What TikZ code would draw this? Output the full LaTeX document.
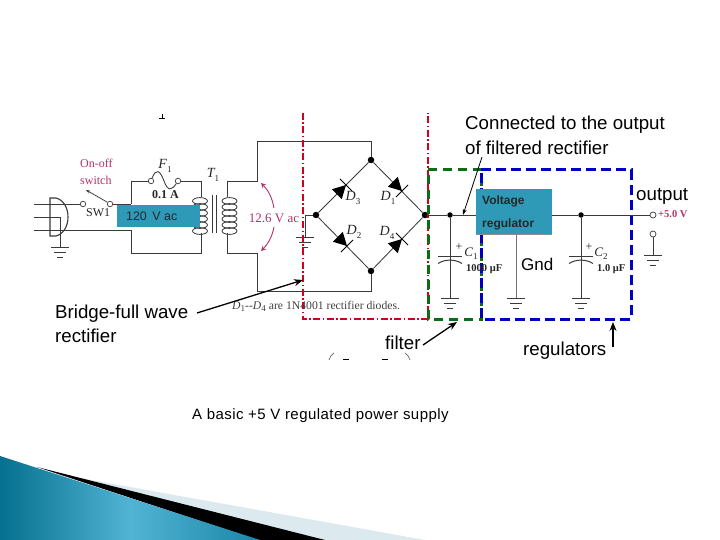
\documentclass[tikz,border=0pt]{standalone}
\usepackage{fontspec}
\setmainfont{Liberation Sans}
\newfontfamily\serifface{Liberation Serif}
\newfontfamily\capface[LetterSpace=3]{Liberation Sans}
\usetikzlibrary{arrows.meta,shadings}
\definecolor{tealbox}{HTML}{2E9AB8}
\definecolor{pinklabel}{HTML}{B5306E}
\definecolor{redbox}{HTML}{D00020}
\definecolor{greenbox}{HTML}{0A6E14}
\definecolor{bluebox}{HTML}{0000C0}
\definecolor{wire}{HTML}{3A3A3A}
\definecolor{bandlight}{HTML}{DCEAF0}
\definecolor{banddark}{HTML}{05708F}
\definecolor{bandmid}{HTML}{52B4D4}
\definecolor{bandright}{HTML}{1A86A8}
\newcommand{\subdigit}[1]{\raisebox{-0.25em}{\fontsize{9}{10}\selectfont\upshape #1}}
\tikzset{
  wireline/.style={draw=wire,line width=0.85pt},
  junction/.style={circle,fill=black,inner sep=0pt,minimum size=6.5pt},
  outlet/.style={circle,draw=wire,fill=white,line width=0.7pt,inner sep=0pt,minimum size=6pt},
  calllabel/.style={font=\fontsize{18.7}{20}\selectfont,text=black,inner sep=0pt,anchor=base west},
  partlabel/.style={font=\serifface\fontsize{12}{13}\selectfont,text=black!85,inner sep=0pt},
  italiclabel/.style={font=\serifface\itshape\fontsize{14}{15}\selectfont,text=black!85,inner sep=0pt},
  pinktext/.style={font=\serifface\fontsize{12}{13}\selectfont,text=pinklabel,inner sep=0pt},
  callarrow/.style={draw=black,line width=1.3pt,-{Stealth[length=9pt,width=7pt]}},
  tealblock/.style={fill=tealbox,inner sep=0pt,anchor=north west},
}
\newcommand{\groundmark}[2]{%
  \draw[wireline,line width=1pt] (#1-9,#2) -- (#1+9,#2) (#1-6,#2+5) -- (#1+6,#2+5) (#1-3,#2+10) -- (#1+3,#2+10);}
\newcommand{\diodemark}[3]{%
  \begin{scope}[shift={(#1,#2)},rotate=#3]
    \fill[black] (0,0) -- (-13,-7) -- (-13,7) -- cycle;
    \draw[black,line width=1pt] (0,-8.5) -- (0,8.5);
  \end{scope}}
\newcommand{\capmark}[1]{%
  \draw[wireline,line width=1pt] (#1-12,256) -- (#1+12,256);
  \draw[wireline,line width=1pt] (#1-12,263.5) .. controls (#1-5,259) and (#1+5,259) .. (#1+12,263.5);}
\begin{document}
\begin{tikzpicture}[x=1pt,y=-1pt]
\useasboundingbox (0,0) rectangle (720,540);
\fill[white] (0,0) rectangle (720,540);
% bottom decoration
\fill[bandlight] (80,478) -- (425,540) -- (320,540) -- cycle;
\fill[black] (37,467) -- (325,540) -- (258,540) -- cycle;
\shade[left color=banddark,right color=bandright,middle color=bandmid,shading angle=90] (0,456) -- (260,540) -- (0,540) -- cycle;
% fragments
\draw[black,line width=0.9pt] (162,114) -- (162,118) (159,118) -- (165,118);
\draw[black!60,line width=0.7pt] (329,360) .. controls (330,357) and (331,355) .. (334,353);
\draw[black!60,line width=0.7pt] (410,360) .. controls (409,357) and (408,355) .. (405,353);
\draw[black,line width=1pt] (343,359) -- (349,359) (382,359) -- (388,359);
% plug
\coordinate (pa) at (34,204); \coordinate (pb) at (34,217); \coordinate (pc) at (34,230);
\draw[wireline] (pa) -- (50,204) (pb) -- (60,217) (pc) -- (50,230);
\draw[wireline,line width=1.1pt] (50,198) -- (50,236) -- (56,236) .. controls (72,232) and (72,202) .. (56,198) -- cycle;
\draw[wireline] (60,217) -- (60,247);
\groundmark{60}{247}
% switch
\node[outlet,minimum size=5.5pt] (sa) at (83,204) {};
\node[outlet,minimum size=5.5pt] (sb) at (110,204) {};
\draw[wireline,line width=0.8pt,-{Stealth[length=4pt,width=3pt]}] (107,202) -- (86,190);
\draw[wireline] (50,204) -- (sa);
\draw[wireline] (sb) -- (131,204);
\draw[wireline] (50,230) -- (131,230);
\draw[wireline] (131,204) -- (131,181) -- (149,181);
\draw[wireline] (131,230) -- (131,253) -- (201,253) -- (201,233);
% fuse
\node[outlet,minimum size=5.5pt] (fa) at (151,181) {};
\node[outlet,minimum size=5.5pt] (fb) at (178,181) {};
\draw[wireline] (fa) .. controls (156,168) and (160,170) .. (164,181) .. controls (168,192) and (172,190) .. (fb);
\draw[wireline] (fb) -- (201,181) -- (201,197);
% transformer
\foreach \yy in {201,207,213,219,225,231}{\draw[wireline,line width=0.8pt] (200,\yy) ellipse (7.5 and 3.4);\draw[wireline,line width=0.8pt] (229.5,\yy) ellipse (7.5 and 3.4);}
\draw[wireline,line width=1pt] (212,195) -- (212,233) (216.5,195) -- (216.5,233);
% secondary to bridge
\node[junction] (top) at (371,160) {};
\node[junction] (left) at (316,215) {};
\node[junction] (right) at (425,215) {};
\node[junction] (bot) at (371,271) {};
\draw[wireline] (227,197) -- (227,181) -- (257,181) -- (257,141) -- (371,141) -- (top);
\draw[wireline] (227,233) -- (227,253) -- (257,253) -- (257,291) -- (371,291) -- (bot);
\draw[wireline] (top) -- (left) -- (bot) -- (right) -- (top);
\draw[wireline] (left) -- (305,215) -- (305,237);
\groundmark{305}{237}
\diodemark{402}{191}{-45}
\diodemark{346}{185}{45}
\diodemark{347}{246}{-45}
\diodemark{402}{239}{45}
% boxes (dashed)
\draw[redbox,line width=1.4pt,dash pattern=on 7pt off 2.5pt on 1.5pt off 2.5pt] (303,113) -- (303,319) -- (428,319) -- (428,113);
\draw[greenbox,line width=3pt,dash pattern=on 9pt off 6pt] (428,170) -- (481,170) -- (481,319) -- (428,319) -- cycle;
\draw[bluebox,line width=3pt,dash pattern=on 10pt off 5pt] (481,170) -- (631,170) -- (631,319) -- (481,319) -- cycle;
% output rail
\node[junction,minimum size=5.5pt] (cone) at (450,215) {};
\node[junction,minimum size=5.5pt] (ctwo) at (581,215) {};
\node[outlet] (outa) at (653,215) {};
\node[outlet] (outb) at (653,234) {};
\draw[wireline] (right) -- (cone) -- (476,215);
\draw[wireline] (552,215) -- (ctwo) -- (outa);
\draw[wireline] (cone) -- (450,298);
\draw[wireline] (ctwo) -- (581,298);
\draw[wireline] (outb) -- (653,255);
\draw[black!55,line width=1pt] (516,234) -- (516,298);
\capmark{450}\capmark{581}
\groundmark{450}{298}\groundmark{516}{298}\groundmark{581}{298}\groundmark{653}{255}
% teal blocks
\node[tealblock,minimum width=83pt,minimum height=22pt] (acbox) at (117,205) {};
\node[font=\fontsize{12.4}{14}\selectfont,text=black!85,inner sep=0pt,anchor=base west] (actext) at (126,221) {120\, V ac};
\node[tealblock,minimum width=76pt,minimum height=45pt] (vreg) at (476,189) {};
\draw[black!45,line width=0.8pt] (476,234.5) -- (552,234.5);
\node[font=\bfseries\fontsize{12}{14}\selectfont,text=black!85,inner sep=0pt,anchor=base west] (vtexta) at (482,205) {Voltage};
\node[font=\bfseries\fontsize{12}{14}\selectfont,text=black!85,inner sep=0pt,anchor=base west] (vtextb) at (482,227) {regulator};
% part labels
\node[pinktext,anchor=base west] (onoff) at (80,168) {On-off};
\node[pinktext,anchor=base west] (switchw) at (80,185) {switch};
\node[partlabel,anchor=base west] (swone) at (86,217) {SW1};
\node[italiclabel] (fone) at (165,166) {F\subdigit{1}};
\node[partlabel,font=\serifface\bfseries\fontsize{12}{13}\selectfont,anchor=base west] (fval) at (152,199) {0.1 A};
\node[italiclabel] (tone) at (213,175) {T\subdigit{1}};
\node[pinktext,font=\serifface\fontsize{13}{14}\selectfont] (vsec) at (274,218) {12.6 V ac};
\draw[pinklabel,line width=0.9pt,{Stealth[length=5pt,width=5pt]}-] (261,183) .. controls (268,190) and (272,197) .. (274,208);
\draw[pinklabel,line width=0.9pt,{Stealth[length=5pt,width=5pt]}-] (261,251) .. controls (268,244) and (272,237) .. (274,227);
\node[italiclabel] (dthree) at (353,198) {D\subdigit{3}};
\node[italiclabel] (done) at (388,198) {D\subdigit{1}};
\node[italiclabel] (dtwo) at (354,232) {D\subdigit{2}};
\node[italiclabel] (dfour) at (387,233) {D\subdigit{4}};
\node[partlabel,anchor=base west,font=\serifface\fontsize{11.7}{13}\selectfont,text=black!75] (dnote) at (232,309) {\textit{D}\subdigit{1}--\textit{D}\subdigit{4} are 1N4001 rectifier diodes.};
\node[partlabel] (cplusa) at (459,247) {+};
\node[italiclabel,font=\serifface\itshape\fontsize{13}{14}\selectfont] (conel) at (471,254) {C\subdigit{1}};
\node[partlabel,anchor=base west,font=\serifface\bfseries\fontsize{10.5}{12}\selectfont] (coneval) at (466,271) {1000 μF};
\node[partlabel] (cplusb) at (589,247) {+};
\node[italiclabel,font=\serifface\itshape\fontsize{13}{14}\selectfont] (ctwol) at (601,254) {C\subdigit{2}};
\node[partlabel,anchor=base west,font=\serifface\bfseries\fontsize{10.5}{12}\selectfont] (ctwoval) at (597,271) {1.0 μF};
\node[pinktext,anchor=base west,font=\serifface\bfseries\fontsize{10.5}{12}\selectfont] (fivev) at (658,218) {+5.0 V};
% callouts
\node[calllabel] (conn) at (465,130) {Connected to the output};
\node[calllabel] (connb) at (465,155) {of filtered rectifier};
\node[calllabel] (bridge) at (55,318) {Bridge-full wave};
\node[calllabel] (bridgeb) at (55,342) {rectifier};
\node[calllabel] (filt) at (385,349.5) {filter};
\node[calllabel] (regs) at (523,355) {regulators};
\node[calllabel] (outp) at (636,200.5) {output};
\node[calllabel,font=\fontsize{17}{20}\selectfont] (gnd) at (521,270) {Gnd};
\node[font=\capface\fontsize{15}{16}\selectfont,inner sep=0pt,anchor=base west] (cap) at (192,419) {A basic +5 V regulated power supply};
\coordinate (ca) at (482,157); \coordinate (cb) at (463,215);
\draw[draw=black,line width=0.8pt,-{Stealth[length=6pt,width=4pt]}] (ca) -- (cb);
\coordinate (ba) at (197,313); \coordinate (bb) at (303,280);
\draw[callarrow] (ba) -- (bb);
\coordinate (fa2) at (423,345); \coordinate (fb2) at (457,322);
\draw[callarrow] (fa2) -- (fb2);
\coordinate (ra) at (613,347); \coordinate (rb) at (613,322);
\draw[callarrow] (ra) -- (rb);
\end{tikzpicture}
\end{document}
